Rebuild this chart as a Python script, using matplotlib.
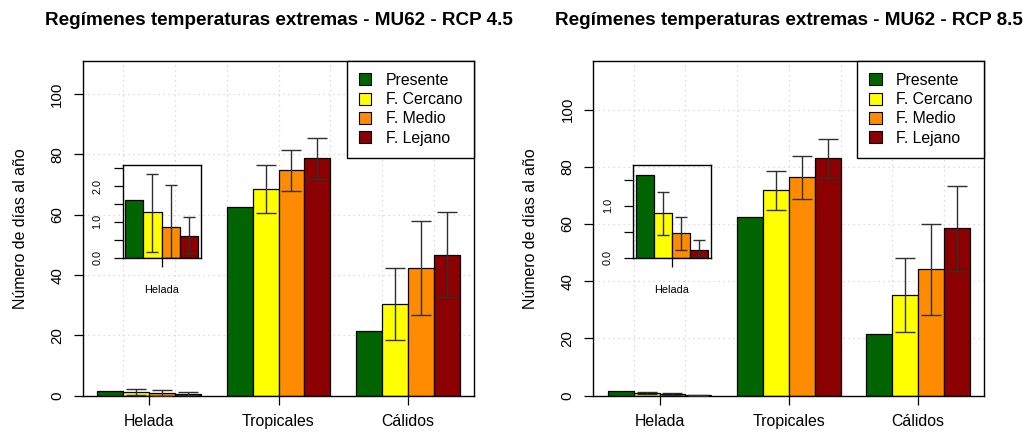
import numpy as np
import matplotlib
matplotlib.use('Agg')
import matplotlib.pyplot as plt
from matplotlib.patches import Patch

plt.rcParams['font.family'] = ['Liberation Sans', 'DejaVu Sans']

# categorías y series
categorias = ['Helada', 'Tropicales', 'Cálidos']
series = ['Presente', 'F. Cercano', 'F. Medio', 'F. Lejano']
colores = ['#006400', '#FFFF00', '#FF8C00', '#8B0000']

# RCP 4.5
r45_presente = [1.6, 62.5, 21.5]
r45_cercano = [1.27, 68.5, 30.4]
r45_cercano_lo = [0.17, 60.5, 18.4]
r45_cercano_hi = [2.35, 76.5, 42.4]
r45_medio = [0.865, 74.7, 42.4]
r45_medio_lo = [0.0, 67.8, 26.8]
r45_medio_hi = [2.04, 81.4, 58.1]
r45_lejano = [0.62, 78.7, 46.7]
r45_lejano_lo = [0.12, 71.9, 32.7]
r45_lejano_hi = [1.13, 85.4, 60.9]

# RCP 8.5
r85_presente = [1.6, 62.5, 21.6]
r85_cercano = [0.86, 71.9, 35.2]
r85_cercano_lo = [0.44, 64.9, 22.3]
r85_cercano_hi = [1.26, 78.7, 48.3]
r85_medio = [0.48, 76.5, 44.2]
r85_medio_lo = [0.15, 68.9, 28.2]
r85_medio_hi = [0.79, 83.9, 60.0]
r85_lejano = [0.14, 83.0, 58.5]
r85_lejano_lo = [0.01, 76.0, 43.6]
r85_lejano_hi = [0.34, 89.9, 73.2]

# ticks del recuadro (Helada)
r45_inset_ticks = [0.0, 0.5, 1.0, 1.5, 2.0, 2.5]
r45_inset_labels = ['0.0', '', '1.0', '', '2.0', '']
r85_inset_ticks = [0.0, 0.5, 1.0, 1.5]
r85_inset_labels = ['0.0', '', '1.0', '']

W, H = 1027, 432
fig = plt.figure(figsize=(W / 100, H / 100), dpi=100)

def px_axes(x0, y0, x1, y1):
    # caja en píxeles (origen arriba-izquierda)
    return fig.add_axes([x0 / W, 1 - y1 / H, (x1 - x0) / W, (y1 - y0) / H])

ERR_COLOR = '#303030'


def panel(x_off, titulo, ymax, vals, los, his, inset_ymax, inset_ticks, inset_labels):
    ax = px_axes(83 + x_off, 61, 474 + x_off, 395.7)
    ax.set_xlim(0.44, 15.56)
    ax.set_ylim(0, ymax)
    # rejilla
    for gx in range(2, 15, 2):
        ax.axvline(gx, color='#D3D3D3', lw=0.9, ls=(0, (1, 3)), zorder=0)
    for gy in range(20, 101, 20):
        ax.axhline(gy, color='#D3D3D3', lw=0.9, ls=(0, (1, 3)), zorder=0)
    for i, (v, c) in enumerate(zip(vals, colores)):
        xs = np.array([1 + 5 * g + i + 0.5 for g in range(3)])
        ax.bar(xs, v, width=1, color=c, edgecolor='black', lw=0.9, zorder=2)
        if los[i] is not None:
            v_ = np.array(v)
            yerr = [v_ - np.array(los[i]), np.array(his[i]) - v_]
            ax.errorbar(xs, v_, yerr=yerr, fmt='none', ecolor=ERR_COLOR,
                        elinewidth=1, capsize=7.2, capthick=1, zorder=3)
    ax.set_xticks([3, 8, 13])
    ax.set_xticklabels(categorias, fontsize=11.4)
    ax.set_yticks([0, 20, 40, 60, 80, 100])
    ax.tick_params(axis='x', length=6.5, width=0.9, pad=6.5)
    ax.tick_params(axis='y', length=6.5, width=0.9, pad=7, labelsize=10.8,
                   labelrotation=90)
    for lab in ax.get_yticklabels():
        lab.set_va('center')
    for s in ax.spines.values():
        s.set_linewidth(1)
    ax.set_ylabel('Número de días al año', fontsize=11.4, labelpad=16)
    ax.set_title(titulo, fontsize=13.6, fontweight='bold', pad=26)
    handles = [Patch(facecolor=c, edgecolor='black', lw=0.8) for c in colores]
    leg = ax.legend(handles, series, loc='upper right', fontsize=11.4,
                    borderaxespad=0, fancybox=False, framealpha=1,
                    edgecolor='black', handlelength=0.8, handleheight=0.8,
                    handletextpad=0.9, labelspacing=0.27, borderpad=0.75)
    leg.get_frame().set_linewidth(1)
    leg.set_zorder(5)

    # recuadro Helada
    ins = px_axes(122.5 + x_off, 165, 200.5 + x_off, 257.7)
    ins.patch.set_alpha(0)
    ins.set_xlim(0.84, 5.16)
    ins.set_ylim(0, inset_ymax)
    for i, (v, c) in enumerate(zip(vals, colores)):
        ins.bar(1.5 + i, v[0], width=1, color=c, edgecolor='black', lw=0.9)
        if los[i] is not None:
            ins.errorbar(1.5 + i, v[0], yerr=[[v[0] - los[i][0]], [his[i][0] - v[0]]],
                         fmt='none', ecolor=ERR_COLOR, elinewidth=1,
                         capsize=4.3, capthick=1)
    ins.set_xticks([3])
    ins.set_xticklabels([categorias[0]], fontsize=7.8)
    ins.set_yticks(inset_ticks)
    ins.set_yticklabels(inset_labels, fontsize=7.8)
    ins.tick_params(axis='x', length=6.5, width=0.9, pad=13)
    ins.tick_params(axis='y', length=6.5, width=0.9, pad=8, labelrotation=90)
    for lab in ins.get_yticklabels():
        lab.set_va('center')
    for s in ins.spines.values():
        s.set_linewidth(1)


panel(0, 'Regímenes temperaturas extremas - MU62 - RCP 4.5', 111,
      [r45_presente, r45_cercano, r45_medio, r45_lejano],
      [None, r45_cercano_lo, r45_medio_lo, r45_lejano_lo],
      [None, r45_cercano_hi, r45_medio_hi, r45_lejano_hi],
      2.59, r45_inset_ticks, r45_inset_labels)

panel(510.3, 'Regímenes temperaturas extremas - MU62 - RCP 8.5', 117,
      [r85_presente, r85_cercano, r85_medio, r85_lejano],
      [None, r85_cercano_lo, r85_medio_lo, r85_lejano_lo],
      [None, r85_cercano_hi, r85_medio_hi, r85_lejano_hi],
      1.79, r85_inset_ticks, r85_inset_labels)

fig.savefig('out.png', dpi=100)
